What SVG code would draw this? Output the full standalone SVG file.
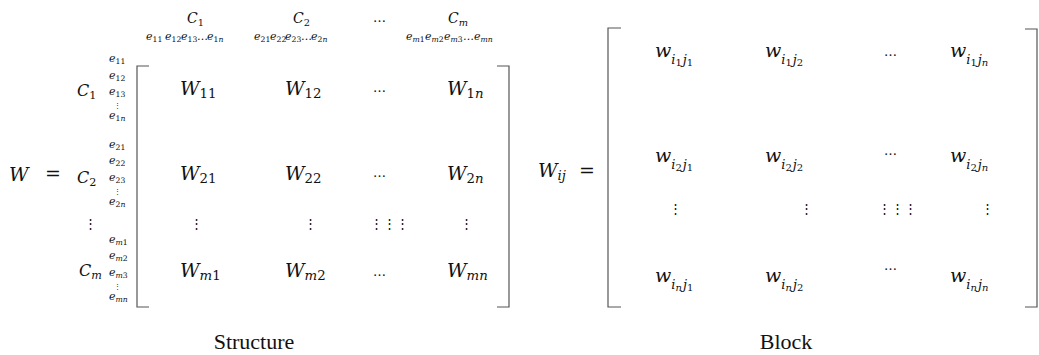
<svg xmlns="http://www.w3.org/2000/svg" width="1039" height="355" viewBox="0 0 1039 355">
  <style>
    text { fill: #111; }
    .M { font-family: "DejaVu Serif", serif; font-style: italic; font-size: 19px; }
    .C { font-family: "DejaVu Serif", serif; font-style: italic; font-size: 16px; }
    .Ch { font-family: "DejaVu Serif", serif; font-style: italic; font-size: 14px; }
    .e { font-family: "DejaVu Serif", serif; font-style: italic; font-size: 11px; }
    .vd { font-family: "DejaVu Serif", serif; font-size: 7px; }
    .s { font-style: normal; font-size: 70%; }
    .i { font-style: italic; }
    .w1 { font-style: italic; font-size: 13px; }
    .w2 { font-style: normal; font-size: 10px; }
    .w2i { font-style: italic; font-size: 10px; }
    .up { font-family: "DejaVu Serif", serif; font-style: normal; }
    .dots { font-family: "DejaVu Serif", serif; font-size: 13px; }
    .cap { font-family: "Liberation Serif", "Times New Roman", serif; font-size: 22px; text-anchor: middle; }
    .br { fill: none; stroke: #555; stroke-width: 1.2; }
  </style>

  <!-- Structure matrix W -->
  <g id="structure">
    <text class="M" x="9" y="181">W</text>
    <text class="up" x="45" y="180" font-size="19">=</text>

    <!-- column headers -->
    <g id="col-headers">
      <text class="Ch" x="187" y="23">C<tspan class="s" dy="3">1</tspan></text>
      <text class="Ch" x="293" y="23">C<tspan class="s" dy="3">2</tspan></text>
      <text class="dots" x="373" y="22">…</text>
      <text class="Ch" x="448" y="23">C<tspan class="s i" dy="3">m</tspan></text>

      <text class="e" y="40">
        <tspan x="146">e</tspan><tspan class="s" dy="2">11</tspan>
        <tspan x="165" dy="-2">e</tspan><tspan class="s" dy="2">12</tspan>
        <tspan x="181" dy="-2">e</tspan><tspan class="s" dy="2">13</tspan>
        <tspan x="197" dy="-2">…</tspan>
        <tspan x="207">e</tspan><tspan class="s" dy="2">1<tspan class="i">n</tspan></tspan>
        <tspan x="254" dy="-2">e</tspan><tspan class="s" dy="2">21</tspan>
        <tspan x="270" dy="-2">e</tspan><tspan class="s" dy="2">22</tspan>
        <tspan x="285" dy="-2">e</tspan><tspan class="s" dy="2">23</tspan>
        <tspan x="301" dy="-2">…</tspan>
        <tspan x="311">e</tspan><tspan class="s" dy="2">2<tspan class="i">n</tspan></tspan>
        <tspan x="406" dy="-2">e</tspan><tspan class="s i" dy="2">m</tspan><tspan class="s">1</tspan>
        <tspan x="425" dy="-2">e</tspan><tspan class="s i" dy="2">m</tspan><tspan class="s">2</tspan>
        <tspan x="444" dy="-2">e</tspan><tspan class="s i" dy="2">m</tspan><tspan class="s">3</tspan>
        <tspan x="463" dy="-2">…</tspan>
        <tspan x="474">e</tspan><tspan class="s i" dy="2">mn</tspan>
      </text>
    </g>

    <!-- row headers -->
    <g id="row-headers">
      <text class="C" x="77" y="96">C<tspan class="s" dy="3">1</tspan></text>
      <text class="C" x="77" y="183">C<tspan class="s" dy="3">2</tspan></text>
      <text class="dots" x="84" y="228">⋮</text>
      <text class="C" x="79" y="276">C<tspan class="s i" dy="3">m</tspan></text>

      <text class="e" x="109" y="62">e<tspan class="s" dy="2">11</tspan></text>
      <text class="e" x="109" y="79">e<tspan class="s" dy="2">12</tspan></text>
      <text class="e" x="109" y="95">e<tspan class="s" dy="2">13</tspan></text>
      <text class="vd" x="114" y="108">⋮</text>
      <text class="e" x="109" y="119">e<tspan class="s" dy="2">1<tspan class="i">n</tspan></tspan></text>

      <text class="e" x="109" y="148">e<tspan class="s" dy="2">21</tspan></text>
      <text class="e" x="109" y="164">e<tspan class="s" dy="2">22</tspan></text>
      <text class="e" x="109" y="181">e<tspan class="s" dy="2">23</tspan></text>
      <text class="vd" x="114" y="194">⋮</text>
      <text class="e" x="109" y="205">e<tspan class="s" dy="2">2<tspan class="i">n</tspan></tspan></text>

      <text class="e" x="109" y="243">e<tspan class="s i" dy="2">m</tspan><tspan class="s">1</tspan></text>
      <text class="e" x="109" y="259">e<tspan class="s i" dy="2">m</tspan><tspan class="s">2</tspan></text>
      <text class="e" x="109" y="276">e<tspan class="s i" dy="2">m</tspan><tspan class="s">3</tspan></text>
      <text class="vd" x="114" y="289">⋮</text>
      <text class="e" x="109" y="300">e<tspan class="s i" dy="2">mn</tspan></text>
    </g>

    <!-- brackets -->
    <path class="br" d="M149,66 H137 V307 H149"/>
    <path class="br" d="M497,66 H509 V307 H497"/>

    <!-- blocks -->
    <g id="blocks">
      <text class="M" x="180" y="95">W<tspan class="s" dy="3">11</tspan></text>
      <text class="M" x="285" y="95">W<tspan class="s" dy="3">12</tspan></text>
      <text class="dots" x="373" y="92">…</text>
      <text class="M" x="447" y="95">W<tspan class="s" dy="3">1<tspan class="i">n</tspan></tspan></text>

      <text class="M" x="180" y="180">W<tspan class="s" dy="3">21</tspan></text>
      <text class="M" x="285" y="180">W<tspan class="s" dy="3">22</tspan></text>
      <text class="dots" x="373" y="177">…</text>
      <text class="M" x="447" y="180">W<tspan class="s" dy="3">2<tspan class="i">n</tspan></tspan></text>

      <text class="dots" x="190" y="228">⋮</text>
      <text class="dots" x="304" y="228">⋮</text>
      <text class="dots" x="370" y="228">⋮⋮⋮</text>
      <text class="dots" x="460" y="228">⋮</text>

      <text class="M" x="180" y="277">W<tspan class="s i" dy="3">m</tspan><tspan class="s">1</tspan></text>
      <text class="M" x="285" y="277">W<tspan class="s i" dy="3">m</tspan><tspan class="s">2</tspan></text>
      <text class="dots" x="373" y="276">…</text>
      <text class="M" x="447" y="277">W<tspan class="s i" dy="3">mn</tspan></text>
    </g>

    <text class="cap" x="254" y="349">Structure</text>
  </g>

  <!-- Block W_ij -->
  <g id="block">
    <text class="M" x="538" y="177">W<tspan class="s i" dy="3">ij</tspan></text>
    <text class="up" x="579" y="177" font-size="19">=</text>

    <path class="br" d="M621,28 H608 V307 H621"/>
    <path class="br" d="M1025,29 H1037 V307 H1025"/>

    <g id="entries">
      <text class="M" x="655" y="57">w<tspan class="w1" dy="7">i</tspan><tspan class="w2" dy="2">1</tspan><tspan class="w1" dx="1" dy="-2">j</tspan><tspan class="w2" dy="2">1</tspan></text>
      <text class="M" x="765" y="57">w<tspan class="w1" dy="7">i</tspan><tspan class="w2" dy="2">1</tspan><tspan class="w1" dx="1" dy="-2">j</tspan><tspan class="w2" dy="2">2</tspan></text>
      <text class="dots" x="884" y="56">…</text>
      <text class="M" x="950" y="57">w<tspan class="w1" dy="7">i</tspan><tspan class="w2" dy="2">1</tspan><tspan class="w1" dx="1" dy="-2">j</tspan><tspan class="w2i" dy="2">n</tspan></text>

      <text class="M" x="655" y="162">w<tspan class="w1" dy="7">i</tspan><tspan class="w2" dy="2">2</tspan><tspan class="w1" dx="1" dy="-2">j</tspan><tspan class="w2" dy="2">1</tspan></text>
      <text class="M" x="765" y="162">w<tspan class="w1" dy="7">i</tspan><tspan class="w2" dy="2">2</tspan><tspan class="w1" dx="1" dy="-2">j</tspan><tspan class="w2" dy="2">2</tspan></text>
      <text class="dots" x="884" y="155">…</text>
      <text class="M" x="950" y="162">w<tspan class="w1" dy="7">i</tspan><tspan class="w2" dy="2">2</tspan><tspan class="w1" dx="1" dy="-2">j</tspan><tspan class="w2i" dy="2">n</tspan></text>

      <text class="dots" x="669" y="213">⋮</text>
      <text class="dots" x="800" y="213">⋮</text>
      <text class="dots" x="878" y="213">⋮⋮⋮</text>
      <text class="dots" x="981" y="213">⋮</text>

      <text class="M" x="655" y="282">w<tspan class="w1" dy="7">i</tspan><tspan class="w2i" dy="2">n</tspan><tspan class="w1" dx="1" dy="-2">j</tspan><tspan class="w2" dy="2">1</tspan></text>
      <text class="M" x="765" y="282">w<tspan class="w1" dy="7">i</tspan><tspan class="w2i" dy="2">n</tspan><tspan class="w1" dx="1" dy="-2">j</tspan><tspan class="w2" dy="2">2</tspan></text>
      <text class="dots" x="884" y="270">…</text>
      <text class="M" x="950" y="282">w<tspan class="w1" dy="7">i</tspan><tspan class="w2i" dy="2">n</tspan><tspan class="w1" dx="1" dy="-2">j</tspan><tspan class="w2i" dy="2">n</tspan></text>
    </g>

    <text class="cap" x="786" y="349">Block</text>
  </g>
</svg>
